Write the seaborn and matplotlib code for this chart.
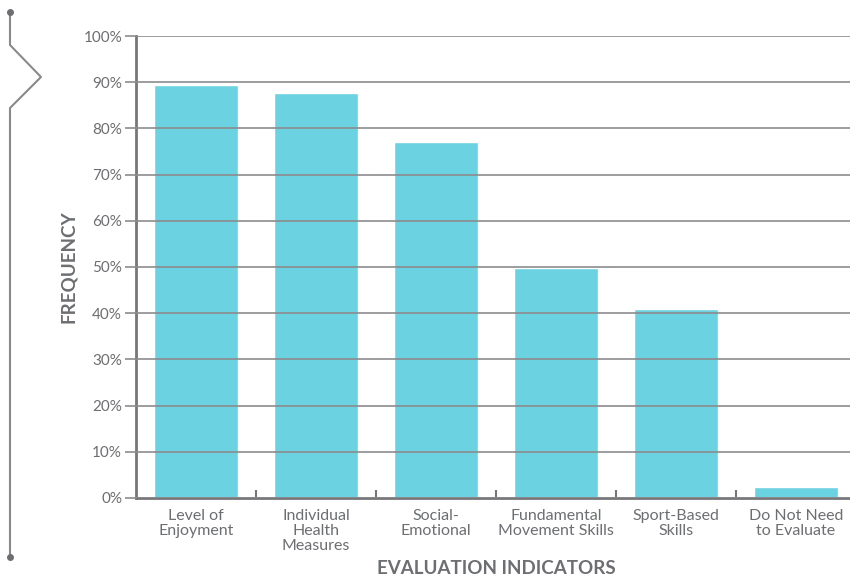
import matplotlib
matplotlib.use("Agg")
import matplotlib.pyplot as plt
import seaborn as sns
import pandas as pd
from matplotlib.lines import Line2D
from matplotlib.ticker import FixedLocator, FuncFormatter

# Data
indicators = [
    "Level of\nEnjoyment",
    "Individual\nHealth\nMeasures",
    "Social-\nEmotional",
    "Fundamental\nMovement Skills",
    "Sport-Based\nSkills",
    "Do Not Need\nto Evaluate",
]
frequency = [89.4, 87.7, 77.1, 49.8, 40.9, 2.4]
y_ticks = [0, 10, 20, 30, 40, 50, 60, 70, 80, 90, 100]

bar_color = "#6ad2e0"
grid_color = "#8c8c8f"
text_color = "#6d6e71"
axis_color = "#77777a"

sns.set_style("white")
plt.rcParams["font.family"] = ["Lato", "DejaVu Sans"]

df = pd.DataFrame({"indicator": indicators, "frequency": frequency})

fig = plt.figure(figsize=(8.5, 5.77), dpi=100)
ax = fig.add_axes([0.16, 0.137, 0.84, 0.8006])

sns.barplot(data=df, x="indicator", y="frequency", color=bar_color,
            saturation=1, width=0.7, ax=ax, zorder=1)

ax.set_ylim(0, 100)
ax.set_xlim(-0.5, 5.45)
ax.set_yticks(y_ticks)
ax.yaxis.set_major_formatter(FuncFormatter(lambda v, p: f"{int(v)}%"))
ax.grid(axis="y", color=grid_color, linewidth=1.2, zorder=3)
ax.set_axisbelow(False)
for line in ax.get_ygridlines():
    line.set_zorder(3)

# tick marks between categories on the x axis
ax.xaxis.set_minor_locator(FixedLocator([0.5, 1.5, 2.5, 3.5, 4.5]))
ax.tick_params(axis="x", which="major", length=0, pad=8,
               labelsize=11.5, labelcolor=text_color)
ax.tick_params(axis="x", which="minor", length=6, width=1.5,
               color=axis_color, direction="in", bottom=True)
ax.tick_params(axis="y", which="major", length=8, width=1.2, color=grid_color,
               left=True, direction="out", labelsize=11,
               labelcolor=text_color, pad=2)
ax.set_xticks(range(len(indicators)))
ax.set_xticklabels(indicators, linespacing=1.1)

for s in ["top", "right"]:
    ax.spines[s].set_visible(False)
ax.spines["left"].set_color(axis_color)
ax.spines["left"].set_linewidth(2)
ax.spines["bottom"].set_color(axis_color)
ax.spines["bottom"].set_linewidth(2)

ax.set_xlabel("EVALUATION INDICATORS", fontsize=13.5, fontweight="bold",
              color=text_color)
ax.set_ylabel("FREQUENCY", fontsize=13.5, fontweight="bold",
              color=text_color)
ax.xaxis.set_label_coords(0.505, -0.134)
ax.yaxis.set_label_coords(-0.082, 0.5)

# decorative bracket on the left side
W, H = 850, 577
px = [10, 10, 41, 10, 10]
py = [12, 45, 77, 108, 557]
fig.add_artist(Line2D([x / W for x in px], [1 - y / H for y in py],
                      color="#8a8a8d", linewidth=1.5, transform=fig.transFigure))
fig.add_artist(Line2D([10 / W, 10 / W], [1 - 12 / H, 1 - 557 / H],
                      linestyle="none", marker="o", markersize=4,
                      color="#6d6e71", transform=fig.transFigure))

fig.savefig("out.png", dpi=100)
